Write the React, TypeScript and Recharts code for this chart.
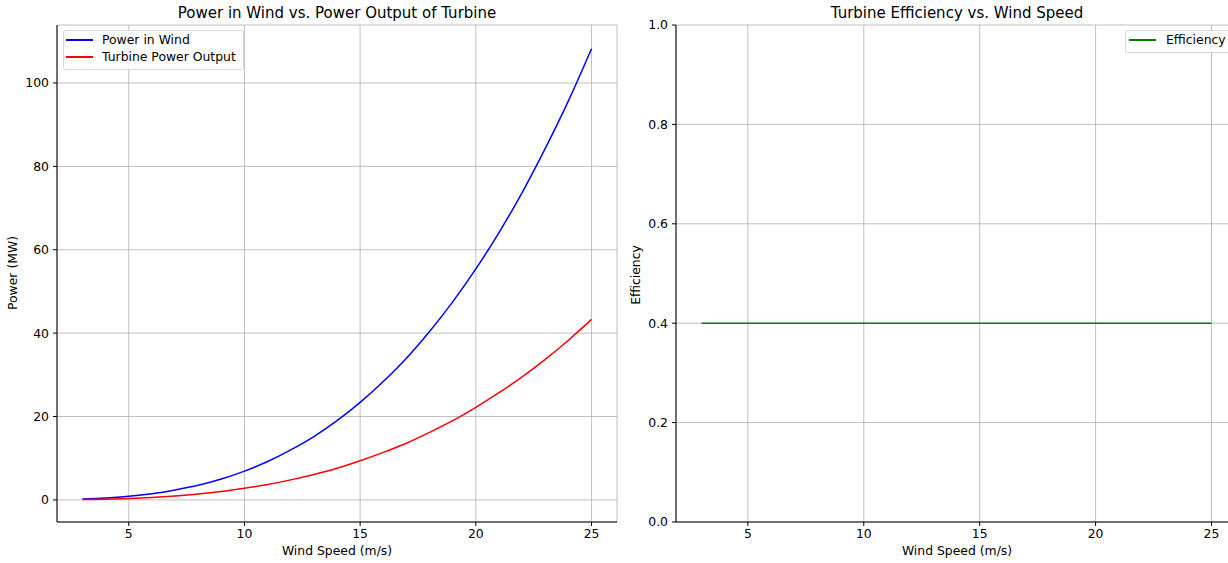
import React from "react"
import { LineChart, Line, XAxis, YAxis, CartesianGrid } from "recharts"

// wind speed (m/s)
const windSpeed = [3, 4, 5, 6, 7, 8, 9, 10, 11, 12, 13, 14, 15, 16, 17, 18, 19, 20, 21, 22, 23, 24, 25]
const powerInWind = [0.19, 0.44, 0.87, 1.5, 2.4, 3.5, 5.0, 6.9, 9.2, 12.0, 15.2, 19.0, 23.4, 28.4, 34.0, 40.4, 47.5, 55.4, 64.1, 73.7, 84.3, 95.7, 108.2]
const turbineOutput = [0.08, 0.18, 0.35, 0.6, 0.95, 1.4, 2.0, 2.8, 3.7, 4.8, 6.1, 7.6, 9.4, 11.4, 13.6, 16.2, 19.0, 22.2, 25.7, 29.5, 33.7, 38.3, 43.3]
const efficiency = [0.4, 0.4, 0.4, 0.4, 0.4, 0.4, 0.4, 0.4, 0.4, 0.4, 0.4, 0.4, 0.4, 0.4, 0.4, 0.4, 0.4, 0.4, 0.4, 0.4, 0.4, 0.4, 0.4]

const xTicks = [5, 10, 15, 20, 25]
const powerTicks = [0, 20, 40, 60, 80, 100]
const effTicks = [0, 0.2, 0.4, 0.6, 0.8, 1.0]

const FONT = "'DejaVu Sans', sans-serif"
const GRID = "#b0b0b0"
const FS = 12.4

const powerData = windSpeed.map((v, i) => ({ v, wind: powerInWind[i], turbine: turbineOutput[i] }))
const effData = windSpeed.map((v, i) => ({ v, eff: efficiency[i] }))

const tickStyle = { fill: "#000", fontSize: FS, fontFamily: FONT }

const text = (style: React.CSSProperties): React.CSSProperties => ({
    position: "absolute",
    fontFamily: FONT,
    color: "#000",
    whiteSpace: "nowrap",
    lineHeight: 1,
    ...style,
})

const swatch = (left: number, top: number, color: string): React.CSSProperties => ({
    position: "absolute",
    left,
    top,
    width: 27,
    height: 2,
    background: color,
})

export default function App() {
    return (
        <div style={{ position: "fixed", left: 0, top: 0, width: 1228, height: 563, overflow: "hidden", background: "#fff" }}>
            {/* left: power */}
            <div style={{ position: "absolute", left: 0, top: 0 }}>
                <LineChart width={640} height={563} data={powerData} margin={{ top: 25, right: 23, bottom: 0, left: 0 }}>
                    <CartesianGrid stroke={GRID} strokeWidth={0.8} />
                    <XAxis dataKey="v" type="number" domain={[1.9, 26.1]} allowDataOverflow ticks={xTicks} height={41} tickSize={4} tickMargin={3} tick={tickStyle} tickLine={{ stroke: "#000" }} axisLine={{ stroke: "#000" }} />
                    <YAxis type="number" domain={[-5.3, 113.9]} allowDataOverflow ticks={powerTicks} width={57} tickSize={4} tickMargin={4} tick={tickStyle} tickLine={{ stroke: "#000" }} axisLine={{ stroke: "#000" }} />
                    <XAxis xAxisId="top" orientation="top" type="number" dataKey="v" domain={[1.9, 26.1]} allowDataOverflow height={0} tick={false} tickLine={false} axisLine={{ stroke: "#000" }} />
                    <YAxis yAxisId="r" orientation="right" type="number" domain={[-5.3, 113.9]} allowDataOverflow width={0} tick={false} tickLine={false} axisLine={{ stroke: "#000" }} />
                    <Line dataKey="wind" type="monotone" stroke="#0000ff" strokeWidth={1.5} dot={false} isAnimationActive={false} />
                    <Line dataKey="turbine" type="monotone" stroke="#ff0000" strokeWidth={1.5} dot={false} isAnimationActive={false} />
                </LineChart>
            </div>

            {/* right: efficiency */}
            <div style={{ position: "absolute", left: 619, top: 0 }}>
                <LineChart width={621} height={563} data={effData} margin={{ top: 25, right: 3, bottom: 0, left: 0 }}>
                    <CartesianGrid stroke={GRID} strokeWidth={0.8} />
                    <XAxis dataKey="v" type="number" domain={[1.9, 26.1]} allowDataOverflow ticks={xTicks} height={41} tickSize={4} tickMargin={3} tick={tickStyle} tickLine={{ stroke: "#000" }} axisLine={{ stroke: "#000" }} />
                    <YAxis type="number" domain={[0, 1]} allowDataOverflow ticks={effTicks} tickFormatter={(t: number) => t.toFixed(1)} width={57} tickSize={4} tickMargin={4} tick={tickStyle} tickLine={{ stroke: "#000" }} axisLine={{ stroke: "#000" }} />
                    <XAxis xAxisId="top" orientation="top" type="number" dataKey="v" domain={[1.9, 26.1]} allowDataOverflow height={0} tick={false} tickLine={false} axisLine={{ stroke: "#000" }} />
                    <YAxis yAxisId="r" orientation="right" type="number" domain={[0, 1]} allowDataOverflow width={0} tick={false} tickLine={false} axisLine={{ stroke: "#000" }} />
                    <Line dataKey="eff" type="linear" stroke="#008000" strokeWidth={1.5} dot={false} isAnimationActive={false} />
                </LineChart>
            </div>

            {/* titles and axis labels */}
            <div style={text({ left: 337, top: 6, fontSize: 15, transform: "translateX(-50%)" })}>Power in Wind vs. Power Output of Turbine</div>
            <div style={text({ left: 957, top: 6, fontSize: 15, transform: "translateX(-50%)" })}>Turbine Efficiency vs. Wind Speed</div>
            <div style={text({ left: 337, top: 545, fontSize: FS, transform: "translateX(-50%)" })}>Wind Speed (m/s)</div>
            <div style={text({ left: 957, top: 545, fontSize: FS, transform: "translateX(-50%)" })}>Wind Speed (m/s)</div>
            <div style={text({ left: 13, top: 273, fontSize: FS, transform: "translate(-50%, -50%) rotate(-90deg)" })}>Power (MW)</div>
            <div style={text({ left: 636, top: 275, fontSize: FS, transform: "translate(-50%, -50%) rotate(-90deg)" })}>Efficiency</div>

            {/* legends */}
            <div style={{ position: "absolute", left: 63, top: 30, width: 179, height: 38, border: "1px solid #d6d6d6", borderRadius: 3, background: "rgba(255,255,255,0.8)" }} />
            <div style={swatch(66, 39, "#0000ff")} />
            <div style={text({ left: 102, top: 34, fontSize: FS })}>Power in Wind</div>
            <div style={swatch(66, 56, "#ff0000")} />
            <div style={text({ left: 102, top: 51, fontSize: FS })}>Turbine Power Output</div>

            <div style={{ position: "absolute", left: 1125, top: 30, width: 120, height: 21, border: "1px solid #d6d6d6", borderRadius: 3, background: "rgba(255,255,255,0.8)" }} />
            <div style={swatch(1129, 39, "#008000")} />
            <div style={text({ left: 1166, top: 34, fontSize: FS })}>Efficiency</div>
        </div>
    )
}
